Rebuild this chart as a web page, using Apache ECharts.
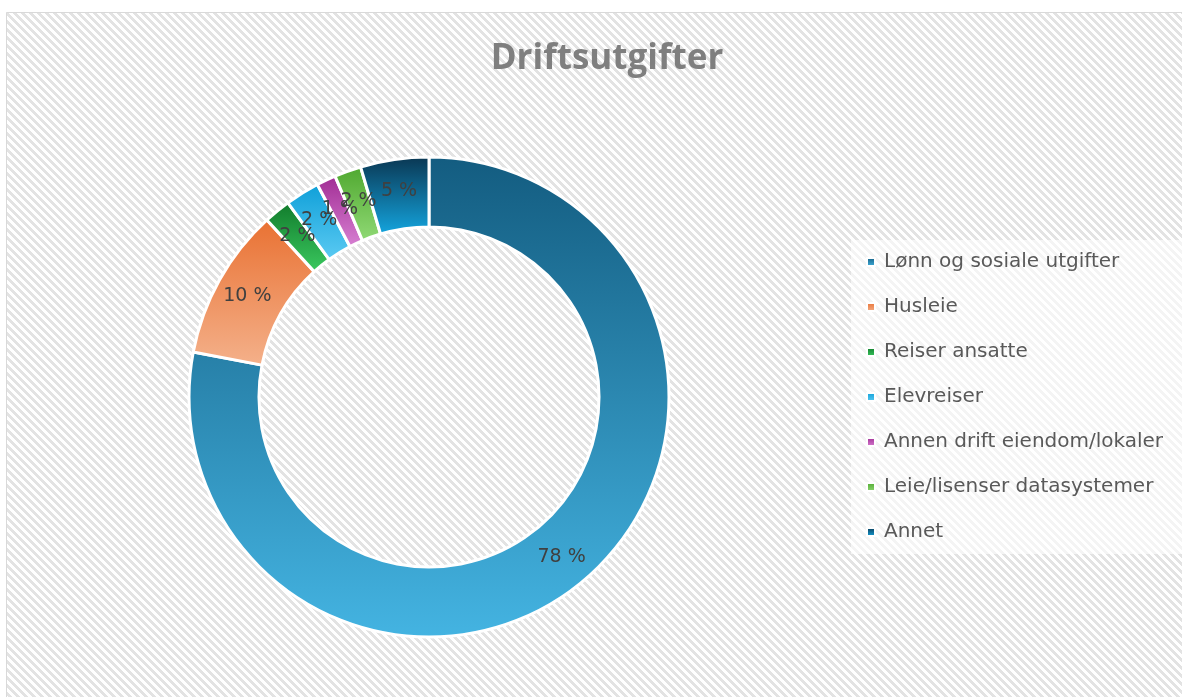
<!DOCTYPE html>
<html>
<head>
<meta charset="utf-8">
<title>Driftsutgifter</title>
<script src="https://cdn.jsdelivr.net/npm/echarts@6/dist/echarts.min.js"></script>
<style>
  html, body { margin: 0; padding: 0; background: #fff; }
  #chart { width: 1182px; height: 697px; }
</style>
</head>
<body>
<div id="chart"></div>
<script>
// data
const categories = [
  'Lønn og sosiale utgifter',
  'Husleie',
  'Reiser ansatte',
  'Elevreiser',
  'Annen drift eiendom/lokaler',
  'Leie/lisenser datasystemer',
  'Annet'
]
const values = [78.0, 10.2, 1.8, 2.3, 1.3, 1.8, 4.6]

// gradient colours per slice (top -> bottom)
const topColors = ['#135c80', '#e97132', '#117a2b', '#0e9fd8', '#a02b93', '#4ea72e', '#0a3550']
const bottomColors = ['#44b4e2', '#f4b18b', '#3bca60', '#5ccbf3', '#d881d3', '#91da76', '#14a6e0']

// diagonal hatch tile for the background
function hatchTile() {
  const n = 8
  const c = document.createElement('canvas')
  c.width = n
  c.height = n
  const ctx = c.getContext('2d')
  ctx.fillStyle = '#ffffff'
  ctx.fillRect(0, 0, n, n)
  ctx.fillStyle = '#e3e3e3'
  for (let y = 0; y < n; y++) {
    for (let x = 0; x < n; x++) {
      if (((x - y) % n + n) % n < n / 2) ctx.fillRect(x, y, 1, 1)
    }
  }
  return c
}

const chart = echarts.init(document.getElementById('chart'))

const option = {
  backgroundColor: '#ffffff',
  graphic: [{
    type: 'rect',
    z: -10,
    silent: true,
    shape: { x: 6.5, y: 12.5, width: 1200, height: 700 },
    style: {
      fill: { image: hatchTile(), repeat: 'repeat' },
      stroke: '#d9d9d9',
      lineWidth: 1
    }
  }],
  title: {
    text: 'Driftsutgifter',
    left: 602,
    textAlign: 'center',
    top: 37,
    textStyle: {
      fontFamily: 'Open Sans',
      fontWeight: 'bold',
      fontSize: 35,
      color: '#7f7f7f'
    }
  },
  legend: {
    orient: 'vertical',
    left: 851,
    top: 240,
    padding: [11, 20, 11, 15],
    backgroundColor: 'rgba(255,255,255,0.6)',
    icon: 'rect',
    itemWidth: 8,
    itemHeight: 8,
    itemGap: 23,
    data: categories,
    textStyle: {
      fontFamily: 'DejaVu Sans',
      fontSize: 20,
      lineHeight: 22,
      color: '#595959',
      padding: [0, 0, 0, 4]
    }
  },
  series: [{
    type: 'pie',
    center: [429, 397],
    radius: [170, 240],
    startAngle: 90,
    clockwise: true,
    avoidLabelOverlap: false,
    itemStyle: {
      borderColor: '#ffffff',
      borderWidth: 3
    },
    label: {
      show: true,
      position: 'inside',
      fontFamily: 'DejaVu Sans',
      fontSize: 19,
      color: '#404040',
      formatter: p => Math.round(p.percent) + ' %'
    },
    labelLayout: { hideOverlap: false },
    labelLine: { show: false },
    emphasis: { disabled: true },
    data: categories.map((name, i) => ({
      name: name,
      value: values[i],
      itemStyle: {
        color: new echarts.graphic.LinearGradient(0, 0, 0, 1, [
          { offset: 0, color: topColors[i] },
          { offset: 1, color: bottomColors[i] }
        ])
      }
    }))
  }]
}

chart.setOption(option)
</script>
</body>
</html>
